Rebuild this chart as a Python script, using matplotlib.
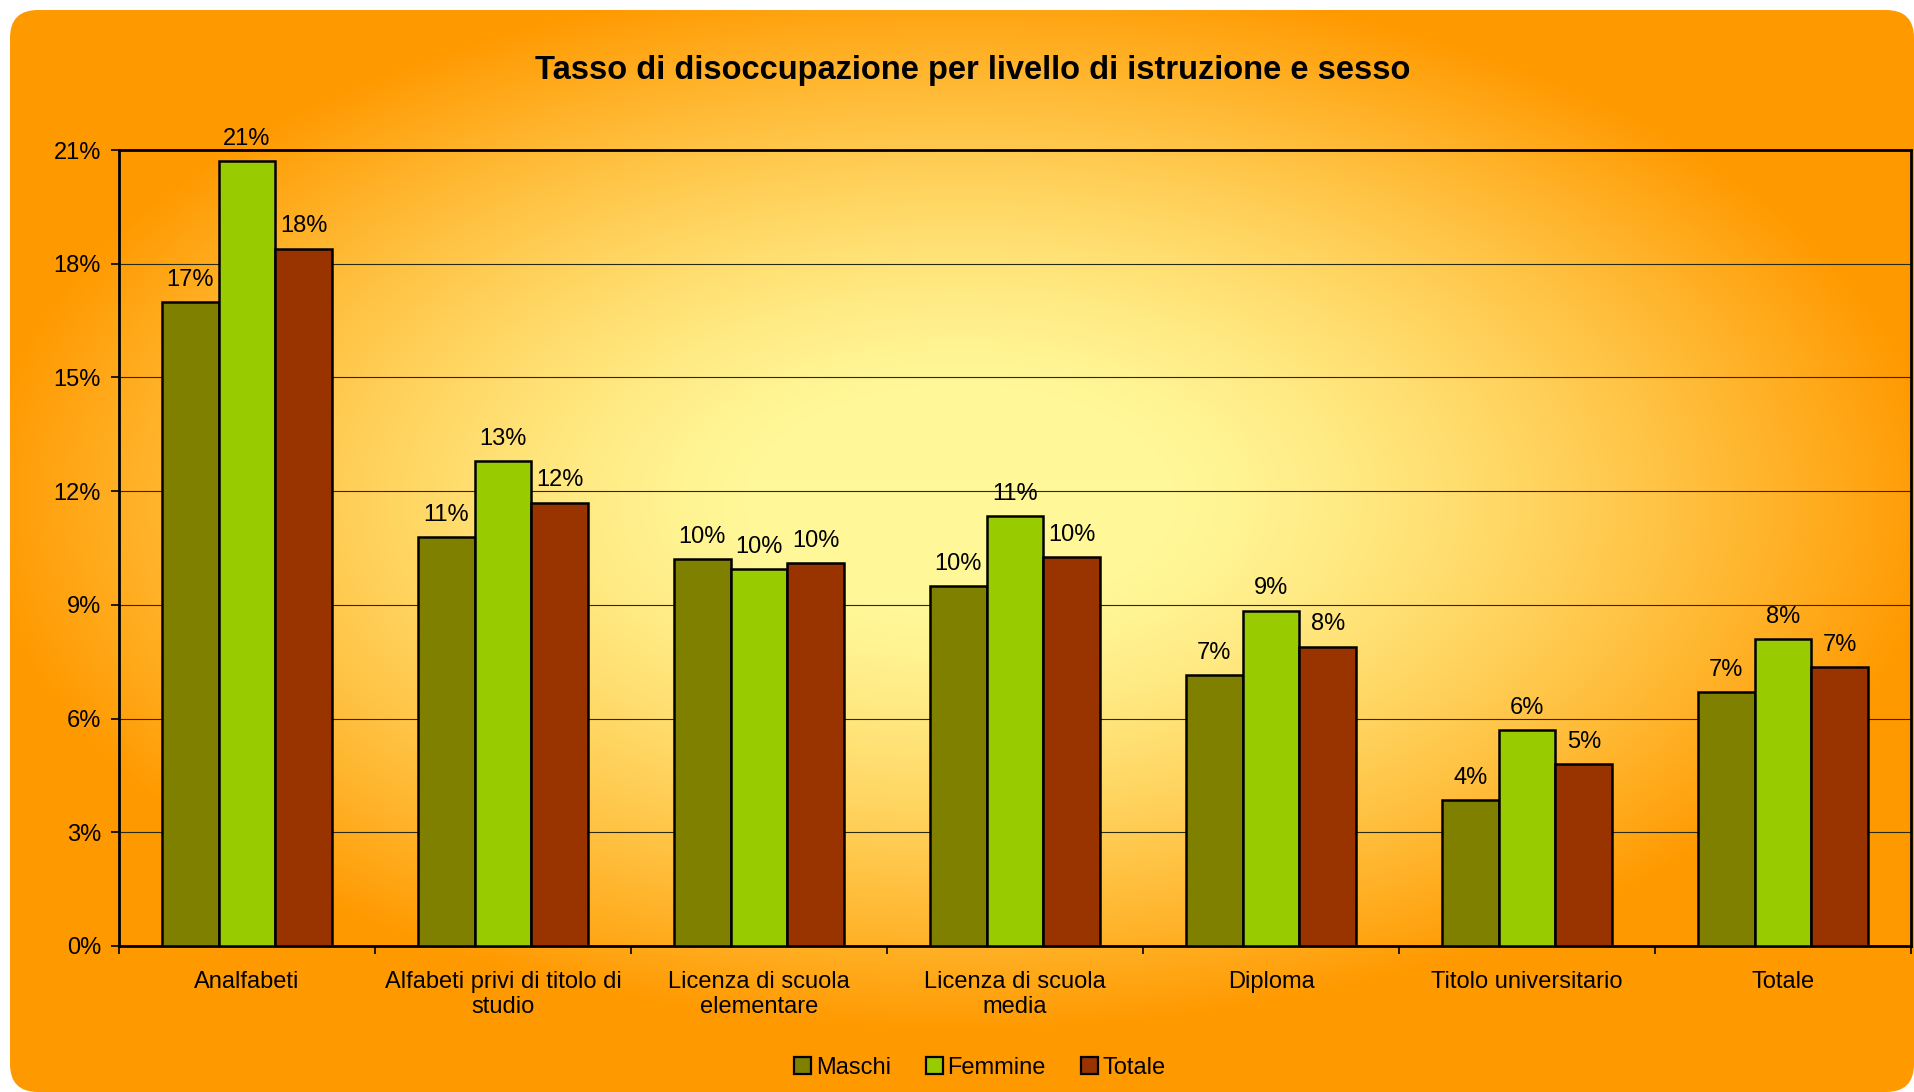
import numpy as np
import matplotlib
matplotlib.use("Agg")
import matplotlib.pyplot as plt
from matplotlib.patches import FancyBboxPatch, Patch
from matplotlib.ticker import FixedLocator, PercentFormatter

plt.rcParams['font.family'] = ['Liberation Sans', 'DejaVu Sans']

# data (percent)
categories = ["Analfabeti", "Alfabeti privi di titolo di\nstudio",
              "Licenza di scuola\nelementare", "Licenza di scuola\nmedia",
              "Diploma", "Titolo universitario", "Totale"]
series = ["Maschi", "Femmine", "Totale"]
maschi = [17.0, 10.8, 10.2, 9.5, 7.15, 3.85, 6.7]
femmine = [20.7, 12.8, 9.95, 11.35, 8.85, 5.7, 8.1]
totale = [18.4, 11.7, 10.1, 10.25, 7.9, 4.8, 7.35]
colors = ["#808000", "#99CC00", "#993300"]
yticks = [0, 3, 6, 9, 12, 15, 18, 21]

W, H = 1914, 1092
fig = plt.figure(figsize=(W / 100, H / 100), dpi=100)
fig.patch.set_facecolor("white")

# background: rounded box with a centred gradient
bg = fig.add_axes([0, 0, 1, 1])
bg.set_xlim(0, W)
bg.set_ylim(H, 0)
bg.axis("off")
xx, yy = np.meshgrid(np.arange(W), np.arange(H))
d = np.sqrt(((xx - 960) / 980.0) ** 2 + ((yy - 500) / 530.0) ** 2)
t = np.clip((d - 0.22) / 0.78, 0, 1) ** 1.3
c0 = np.array([255, 247, 152]) / 255.0
c1 = np.array([255, 153, 0]) / 255.0
img = c0[None, None, :] * (1 - t[..., None]) + c1[None, None, :] * t[..., None]
im = bg.imshow(img, extent=(0, W, H, 0), zorder=0)
box = FancyBboxPatch((10, 10), W - 10, H - 10, boxstyle="round,pad=0,rounding_size=28",
                     transform=bg.transData, facecolor="none", edgecolor="none")
bg.add_patch(box)
im.set_clip_path(box)

# main chart
ax = fig.add_axes([119 / W, 146 / H, (1911 - 119) / W, (946 - 150) / H])
ax.set_facecolor("none")
x = np.arange(len(categories))
bw = 0.222
for i, (vals, name, col) in enumerate(zip([maschi, femmine, totale], series, colors)):
    pos = x + (i - 1) * bw
    bars = ax.bar(pos, vals, width=bw, color=col, edgecolor="black", linewidth=1.8,
                  label=name, zorder=3)
    for b, v in zip(bars, vals):
        ax.annotate(f"{v:.0f}%", (b.get_x() + b.get_width() / 2, v),
                    xytext=(0, 8), textcoords="offset points",
                    ha="center", va="bottom", fontsize=17, zorder=4)

ax.set_xlim(-0.5, len(categories) - 0.5)
ax.set_ylim(0, 21)
ax.set_yticks(yticks)
ax.yaxis.set_major_formatter(PercentFormatter(decimals=0))
ax.yaxis.grid(True, color="#2a2a10", linewidth=0.8, zorder=1)
ax.set_axisbelow(True)

ax.set_xticks(x)
ax.set_xticklabels(categories, fontsize=17, linespacing=1.2)
ax.xaxis.set_minor_locator(FixedLocator(np.arange(-0.5, len(categories), 1.0)))
ax.tick_params(axis="x", which="major", length=0, pad=18)
ax.tick_params(axis="x", which="minor", length=6, width=1.2, direction="out")
ax.tick_params(axis="y", length=6, width=1.2, direction="out", pad=7, labelsize=17)
for s in ax.spines.values():
    s.set_linewidth(2.0)
    s.set_color("black")

fig.text(0.508, 1 - 70 / H, "Tasso di disoccupazione per livello di istruzione e sesso",
         ha="center", va="center", fontsize=23.5, fontweight="bold")

handles = [Patch(facecolor=c, edgecolor="black", linewidth=1.6) for c in colors]
fig.legend(handles, series, loc="center", bbox_to_anchor=(980 / W, 1 - 1068 / H),
           ncol=3, frameon=False, fontsize=17, handlelength=0.7, handleheight=0.7,
           handletextpad=0.2, columnspacing=1.5)

fig.savefig("out.png", dpi=100)
